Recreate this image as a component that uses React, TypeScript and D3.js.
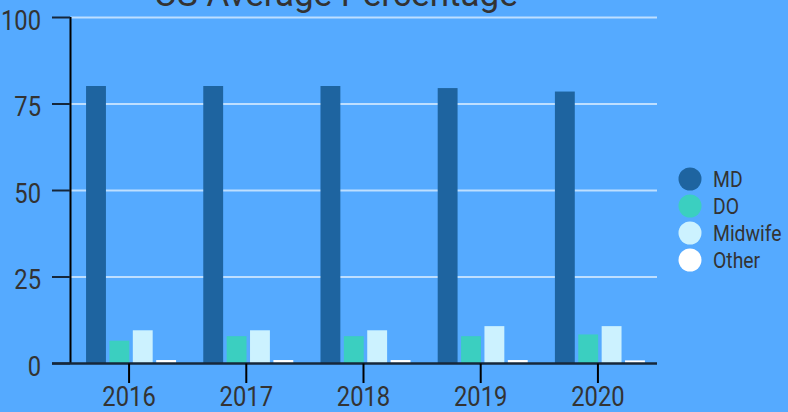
import React, { useEffect, useRef } from "react";
import * as d3 from "d3";

const years = ["2016", "2017", "2018", "2019", "2020"];
const seriesNames = ["MD", "DO", "Midwife", "Other"];
const mdValues = [80.2, 80.2, 80.2, 79.6, 78.6];
const doValues = [6.6, 7.9, 7.9, 7.9, 8.4];
const midwifeValues = [9.6, 9.6, 9.6, 10.8, 10.8];
const otherValues = [1.0, 1.0, 1.0, 1.0, 0.9];
const yTicks = [0, 25, 50, 75, 100];
const seriesColors = ["#1e64a0", "#3bcfc0", "#ccf2ff", "#ffffff"];
const titleText = "US Average Percentage";

const W = 788;
const H = 412;

export default function App() {
  const ref = useRef<SVGSVGElement | null>(null);

  useEffect(() => {
    document.body.style.margin = "0";
    const svg = d3.select(ref.current);
    svg.selectAll("*").remove();

    const valuesBySeries = [mdValues, doValues, midwifeValues, otherValues];
    const y = d3.scaleLinear().domain([0, 100]).range([363.5, 17.5]);
    const x0 = d3.scaleBand().domain(years).range([70, 657]).paddingInner(0.266).paddingOuter(0.137);
    const x1 = d3.scaleBand().domain(seriesNames).range([0, 90]).paddingInner(0.15);
    const color = d3.scaleOrdinal<string, string>().domain(seriesNames).range(seriesColors);

    const font = "Roboto, sans-serif";
    const textColor = "#333333";

    svg.append("rect").attr("width", W).attr("height", H).attr("fill", "#55aaff");

    // gridlines
    svg.append("g").selectAll("line").data(yTicks.filter((t) => t > 0)).join("line")
      .attr("x1", 71).attr("x2", 657)
      .attr("y1", (d) => y(d)).attr("y2", (d) => y(d))
      .attr("stroke", "rgba(255,255,255,0.62)").attr("stroke-width", 2);

    // bars
    const rows = years.map((yr, i) => ({ year: yr, vals: seriesNames.map((s, j) => ({ s, v: valuesBySeries[j][i] })) }));
    const groups = svg.append("g").selectAll("g").data(rows).join("g")
      .attr("transform", (d) => `translate(${x0(d.year)},0)`);
    groups.selectAll("rect").data((d) => d.vals).join("rect")
      .attr("x", (d) => x1(d.s)!)
      .attr("width", x1.bandwidth())
      .attr("y", (d) => y(d.v))
      .attr("height", (d) => y(0) - y(d.v))
      .attr("fill", (d) => color(d.s));

    // y axis line
    svg.append("line").attr("x1", 70.5).attr("x2", 70.5).attr("y1", 17).attr("y2", 364)
      .attr("stroke", "#000").attr("stroke-width", 2);
    // y ticks
    svg.append("g").selectAll("line").data(yTicks).join("line")
      .attr("x1", 52).attr("x2", 70)
      .attr("y1", (d) => y(d)).attr("y2", (d) => y(d))
      .attr("stroke", "#16273a").attr("stroke-width", 2);
    // x domain line
    svg.append("line").attr("x1", 52).attr("x2", 657).attr("y1", y(0)).attr("y2", y(0))
      .attr("stroke", "#16273a").attr("stroke-width", 2.5);
    // x ticks
    svg.append("g").selectAll("line").data(years).join("line")
      .attr("x1", (d) => x0(d)! + x0.bandwidth() / 2).attr("x2", (d) => x0(d)! + x0.bandwidth() / 2)
      .attr("y1", y(0)).attr("y2", 383)
      .attr("stroke", "#000").attr("stroke-width", 2);

    // y labels
    svg.append("g").selectAll("text").data(yTicks).join("text")
      .attr("class", "cond")
      .attr("x", 41).attr("y", (d) => y(d) + 12)
      .attr("text-anchor", "end")
      .attr("font-family", font).attr("font-size", 27).attr("fill", textColor)
      .text((d) => String(d));

    // x labels
    svg.append("g").selectAll("text").data(years).join("text")
      .attr("class", "cond")
      .attr("x", (d) => x0(d)! + x0.bandwidth() / 2).attr("y", 406)
      .attr("text-anchor", "middle")
      .attr("font-family", font).attr("font-size", 27).attr("fill", textColor)
      .text((d) => d);

    // title
    svg.append("text")
      .attr("x", 336).attr("y", 6)
      .attr("text-anchor", "middle")
      .attr("font-family", font).attr("font-size", 35).attr("fill", textColor)
      .text(titleText);

    // legend
    const leg = svg.append("g").selectAll("g").data(seriesNames).join("g")
      .attr("transform", (d, i) => `translate(690,${179 + i * 27})`);
    leg.append("circle").attr("r", 11.5).attr("fill", (d) => color(d));
    leg.append("text").attr("class", "cond")
      .attr("x", 23).attr("y", 7.5)
      .attr("font-family", font).attr("font-size", 22).attr("fill", textColor)
      .text((d) => d);

    // condense text
    svg.selectAll<SVGTextElement, unknown>("text.cond").each(function () {
      const len = this.getComputedTextLength();
      d3.select(this).attr("textLength", len * 0.88).attr("lengthAdjust", "spacingAndGlyphs");
    });
  }, []);

  return <svg ref={ref} width={W} height={H} style={{ display: "block" }} />;
}
